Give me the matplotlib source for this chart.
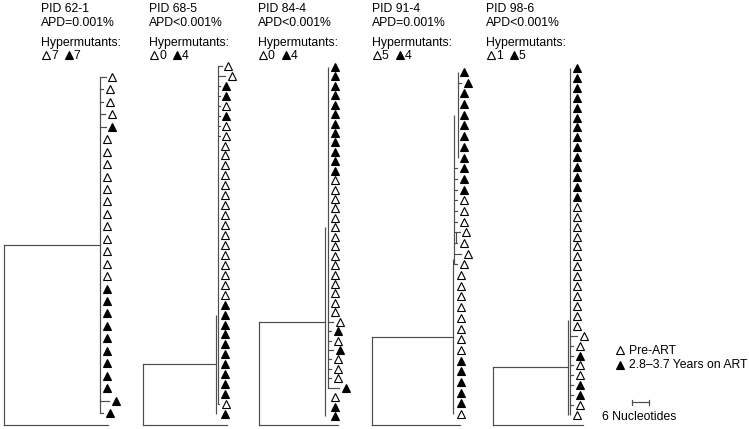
import matplotlib
matplotlib.use("Agg")
import matplotlib.pyplot as plt

# ---------------- data ----------------
PIDS = ["PID 62-1", "PID 68-5", "PID 84-4", "PID 91-4", "PID 98-6"]
APDS = ["APD=0.001%", "APD<0.001%", "APD<0.001%", "APD=0.001%", "APD<0.001%"]
HYPER_PRE = [7, 0, 0, 5, 1]
HYPER_ART = [7, 4, 4, 4, 5]

# leaf types: 0 = Pre-ART (open), 1 = on ART (filled)
types1 = "0000100000000000011111111111"
types2 = "001101" + "0" * 18 + "1" * 10 + "01"
types3 = "1" * 12 + "0" * 15 + "0101" + "000" + "1" + "0" + "11"
types4 = "1" * 12 + "0" * 15 + "1" * 5 + "0"
types5 = "1" * 14 + "0" * 15 + "1" + "00" + "11" + "00"

# terminal branch lengths (nucleotides)
tips1 = [2.1, 1.1, 1.1, 1.8, 2.1] + [0] * 21 + [3.2, 1.1]
tips2 = [1.4, 2.5] + [0.7] * 6 + [0] * 26 + [0.4, 0]
tips3 = [0] * 27 + [1.8, 1.1, 1.1, 1.8, 1.1, 1.1, 1.1, 3.9, 0, 0, 0]
tips4 = [0, 1.1] + [0] * 7 + [1.1] * 6 + [2.1, 1.1, 2.5, 1.1] + [0] * 14
tips5 = [0] * 27 + [2.5] + [1.1] * 7 + [0]

# depth of the node each leaf hangs from, relative to clade base (nucleotides)
attach4 = [1.4] * 9 + [0] * 24

# internal vertical branches: (offset nt, first leaf, last leaf)
verts1 = [(0.0, 0, 27)]
verts2 = [(0.0, 0, 34), (-0.7, 25, 35)]
verts3 = [(0.0, 0, 34), (-1.0, 17, 37)]
verts4 = [(1.4, 0, 8), (0.0, 4, 18), (0.7, 15, 16), (-0.4, 17.5, 32)]
verts5 = [(0.0, 0, 35), (-0.7, 25.4, 35)]
JOIN = [0, 1, 1, 3, 1]  # vertical to which the root branch attaches

# root branch and outgroup branch lengths (nucleotides)
ROOT_LEN = [33.9, 25.8, 23.3, 28.6, 26.5]
OUT_LEN = [36.7, 29.7, 27.9, 31.1, 31.8]
SCALE_NT = 6

TYPES = [types1, types2, types3, types4, types5]
TIPS = [tips1, tips2, tips3, tips4, tips5]
ATTACH = [None, None, None, attach4, None]
VERTS = [verts1, verts2, verts3, verts4, verts5]

# ---------------- layout ----------------
PX_PER_NT = 17 / 6.0
BASE_X = [100, 218, 328, 454, 570]
LEAF_TOP = [77, 66, 67, 72, 68]
LEAF_BOT = [413, 414, 416, 414, 415]
OUT_Y = 425
HEAD_X = [41, 149, 258, 372, 486]
GAP = 6.5
LC = "#4d4d4d"
LW = 0.85
FONT = ["Liberation Sans", "DejaVu Sans"]
FS = 8.8

fig = plt.figure(figsize=(7.49, 4.29), dpi=100)
ax = fig.add_axes([0, 0, 1, 1])
ax.set_xlim(0, 749)
ax.set_ylim(429, 0)
ax.axis("off")


def tri(x, y, filled):
    ax.plot([x], [y], marker="^", ms=6, mew=0.8, mec="black",
            mfc="black" if filled else "white", ls="none", zorder=5)


for p in range(5):
    t = [int(c) for c in TYPES[p]]
    n = len(t)
    bx = BASE_X[p]
    sp = (LEAF_BOT[p] - LEAF_TOP[p]) / (n - 1)
    ly = lambda i: LEAF_TOP[p] + i * sp
    att = ATTACH[p] if ATTACH[p] is not None else [0] * n

    # verticals
    for off, i0, i1 in VERTS[p]:
        x = bx + off * PX_PER_NT
        ax.plot([x, x], [ly(i0), ly(i1)], color=LC, lw=LW, solid_capstyle="butt")
    # root
    off, i0, i1 = VERTS[p][JOIN[p]]
    jx = bx + off * PX_PER_NT
    jy = (ly(i0) + ly(i1)) / 2
    rx = jx - ROOT_LEN[p] * PX_PER_NT
    ax.plot([rx, jx], [jy, jy], color=LC, lw=LW)
    ax.plot([rx, rx], [jy, OUT_Y], color=LC, lw=LW)
    ax.plot([rx, rx + OUT_LEN[p] * PX_PER_NT], [OUT_Y, OUT_Y], color=LC, lw=LW)

    # leaves
    for i in range(n):
        x0 = bx + att[i] * PX_PER_NT
        L = TIPS[p][i] * PX_PER_NT
        y = ly(i)
        if L > 0:
            ax.plot([x0, x0 + L], [y, y], color=LC, lw=LW)
        tri(x0 + L + GAP, y, t[i] == 1)

    # header
    hx = HEAD_X[p]
    ax.text(hx, 12.5, PIDS[p], fontsize=FS, family=FONT, va="baseline", ha="left")
    ax.text(hx, 26, APDS[p], fontsize=FS, family=FONT, va="baseline", ha="left")
    ax.text(hx, 46, "Hypermutants:", fontsize=FS, family=FONT, va="baseline", ha="left")
    tri(hx + 4.5, 54.5, False)
    ax.text(hx + 10, 59, str(HYPER_PRE[p]), fontsize=FS, family=FONT, va="baseline", ha="left")
    tri(hx + 27.5, 54.5, True)
    ax.text(hx + 32.5, 59, str(HYPER_ART[p]), fontsize=FS, family=FONT, va="baseline", ha="left")

# legend
tri(620, 349.5, False)
ax.text(629, 353.5, "Pre-ART", fontsize=FS, family=FONT, va="baseline", ha="left")
tri(620, 364.5, True)
ax.text(629, 368.5, "2.8\u20133.7 Years on ART", fontsize=FS, family=FONT, va="baseline", ha="left")

# scale bar
sx0 = 632
sx1 = sx0 + SCALE_NT * PX_PER_NT
ax.plot([sx0, sx1], [402, 402], color=LC, lw=LW)
ax.plot([sx0, sx0], [399.5, 404.5], color=LC, lw=LW)
ax.plot([sx1, sx1], [399.5, 404.5], color=LC, lw=LW)
ax.text(602, 419.5, "6 Nucleotides", fontsize=FS, family=FONT, va="baseline", ha="left")

fig.savefig("out.png", dpi=100)
